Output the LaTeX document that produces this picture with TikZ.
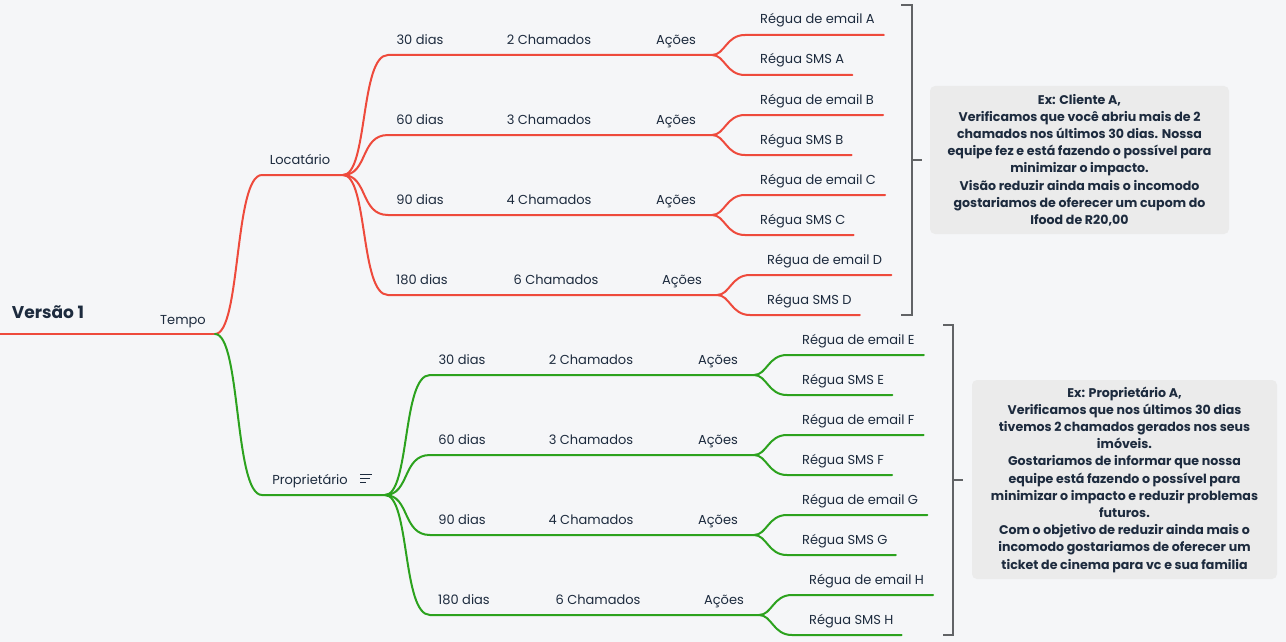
\documentclass[tikz,border=0pt]{standalone}
\usepackage{fontspec}
\setmainfont{Poppins}
\usetikzlibrary{calc}
\definecolor{bg}{HTML}{F5F6F8}
\definecolor{ink}{HTML}{1D2B3E}
\definecolor{redl}{HTML}{EE4A3C}
\definecolor{greenl}{HTML}{2CA21E}
\definecolor{brk}{HTML}{616366}
\definecolor{notebg}{HTML}{EBEBEB}
\tikzset{
  lbl/.style={font=\fontsize{13}{15}\selectfont, text=ink, inner sep=0pt, anchor=base},
  lblw/.style={lbl, anchor=base west},
  conn/.style={line width=2pt, line cap=round},
  brack/.style={draw=brk, line width=2pt},
  notebox/.style={fill=notebg, rounded corners=5pt, align=center, text=ink,
     font=\fontsize{12.6}{17.2}\selectfont\bfseries, inner sep=0pt},
  rootlbl/.style={font=\fontsize{17}{20}\selectfont\bfseries, text=ink, inner sep=0pt, anchor=base}
}
\newcommand\branchset[5]{% #1 prefix, #2 colour, #3 dx, #4 dy, #5 letters
\begin{scope}[shift={(#3,#4)}]
  \coordinate (#1hub) at (343,175);
  \foreach \L [count=\j from 0] in {#5} {
    \pgfmathsetmacro\ry{55+80*\j}
    \pgfmathsetmacro\s{\j==3 ? 1 : 0}
    \coordinate (#1r\j) at (388,\ry);
    \coordinate (#1f\j) at (712+5*\s,\ry);
    \coordinate (#1e\j) at (745+5*\s,\ry-20);
    \coordinate (#1m\j) at (745+5*\s,\ry+20);
    \node[lbl] (#1d\j) at (420+2*\s,\ry-10.5) {\ifcase\j\relax 30\or 60\or 90\else 180\fi\ dias};
    \node[lbl] (#1c\j) at (549+7*\s,\ry-10.5) {\ifcase\j\relax 2\or 3\or 4\else 6\fi\ Chamados};
    \node[lbl] (#1a\j) at (676+6*\s,\ry-10.5) {Ações};
    \node[lblw] (#1E\j) at (760+7*\s,\ry-31) {Régua de email \L};
    \node[lblw] (#1S\j) at (760+7*\s,\ry+9) {Régua SMS \L};
    \draw[conn,#2] (#1hub) .. controls +(25,0) and +(-28,0) .. (#1r\j) -- (#1f\j);
    \draw[conn,#2] (#1f\j) .. controls +(13,0) and +(-19,0) .. (#1e\j)
       -- ($(#1E\j.east |- #1e\j)+(9,0)$);
    \draw[conn,#2] (#1f\j) .. controls +(13,0) and +(-19,0) .. (#1m\j)
       -- ($(#1S\j.east |- #1m\j)+(8,0)$);
  }
\end{scope}}
\begin{document}
\begin{tikzpicture}[x=1pt,y=-1pt]
\useasboundingbox (0,0) rectangle (1286,642);
\fill[bg] (0,0) rectangle (1286,642);

\branchset{L}{redl}{0}{0}{A,B,C,D}
\branchset{P}{greenl}{42}{320}{E,F,G,H}

% root and first level
\coordinate (rootstart) at (0,334);
\coordinate (thub) at (215,334);
\node[rootlbl] (root) at (48,318) {Versão 1};
\node[lbl] (tempo) at (183,324.5) {Tempo};
\draw[conn,redl,line cap=butt] (rootstart) -- (thub);

\coordinate (Lstart) at (262,175);
\coordinate (Pstart) at (262,495);
\node[lbl] (loc) at (300,164.5) {Locatário};
\node[lbl] (prop) at (310,484.5) {Proprietário};
\draw[conn,redl] (thub) .. controls +(26,0) and +(-28,0) .. (Lstart) -- (Lhub);
\draw[conn,greenl] (thub) .. controls +(26,0) and +(-28,0) .. (Pstart) -- (Phub);

% notes icon
\draw[ink,line width=1.2pt] (360,474.5) -- (372,474.5) (360,478.5) -- (370,478.5) (360,482.5) -- (366,482.5);

% brackets
\draw[brack] (901,5) -- (912,5) -- (912,315) -- (901,315);
\draw[brack] (912,160) -- (922,160);
\draw[brack] (943,325) -- (953,325) -- (953,635) -- (943,635);
\draw[brack] (953,480) -- (963,480);

% notes
\node[notebox, minimum width=299pt, minimum height=148pt] (note1) at (1079.5,160)
 {Ex: Cliente A,\\
  Verificamos que você abriu mais de 2\\
  chamados nos últimos 30 dias. Nossa\\
  equipe fez e está fazendo o possível para\\
  minimizar o impacto.\\
  Visão reduzir ainda mais o incomodo\\
  gostariamos de oferecer um cupom do\\
  Ifood de R20,00};
\node[notebox, minimum width=305pt, minimum height=199pt] (note2) at (1124.5,479.5)
 {Ex: Proprietário A,\\
  Verificamos que nos últimos 30 dias\\
  tivemos 2 chamados gerados nos seus\\
  imóveis.\\
  Gostariamos de informar que nossa\\
  equipe está fazendo o possível para\\
  minimizar o impacto e reduzir problemas\\
  futuros.\\
  Com o objetivo de reduzir ainda mais o\\
  incomodo gostariamos de oferecer um\\
  ticket de cinema para vc e sua familia};
\end{tikzpicture}
\end{document}
